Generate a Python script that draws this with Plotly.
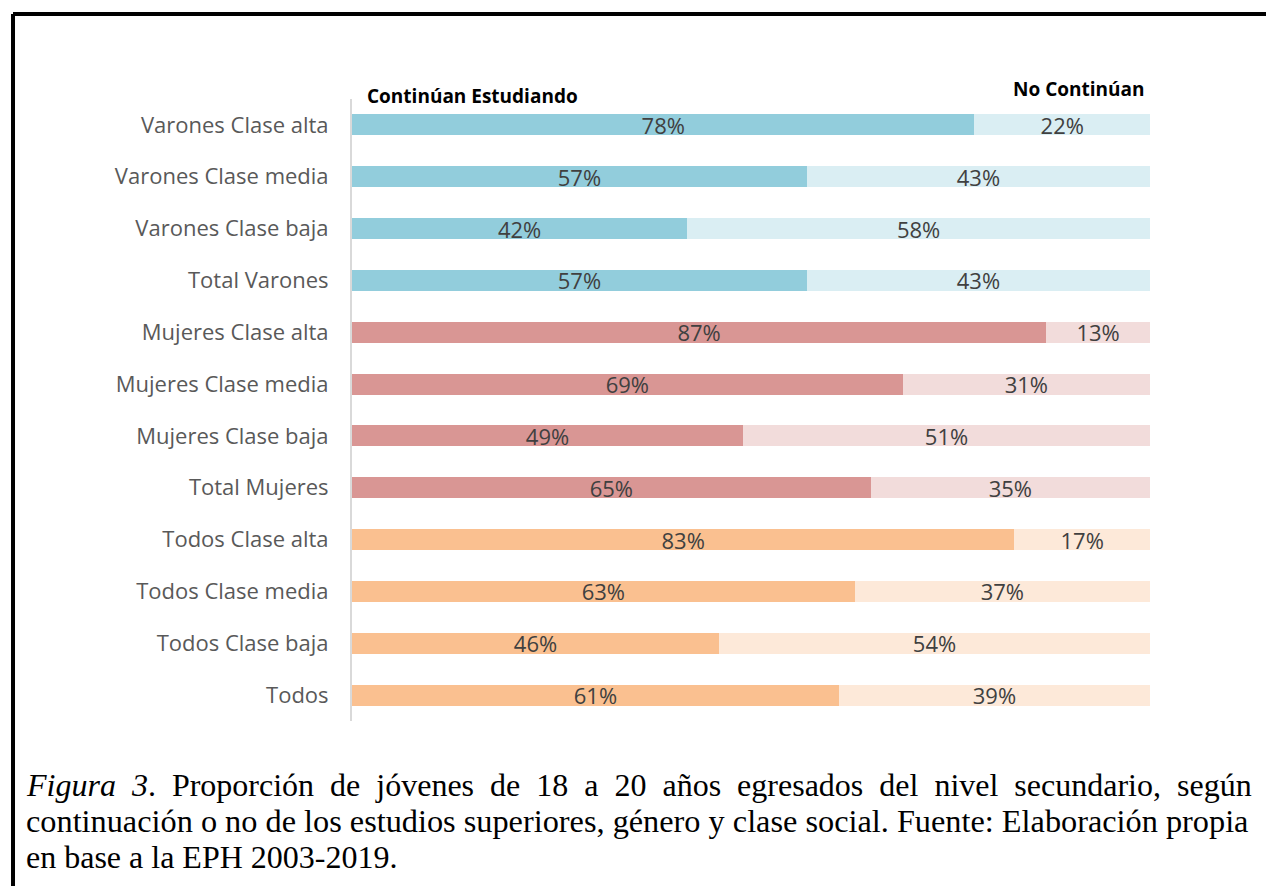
import plotly.graph_objects as go

# Datos (de arriba hacia abajo)
categorias = [
    "Varones Clase alta", "Varones Clase media", "Varones Clase baja", "Total Varones",
    "Mujeres Clase alta", "Mujeres Clase media", "Mujeres Clase baja", "Total Mujeres",
    "Todos Clase alta", "Todos Clase media", "Todos Clase baja", "Todos",
]
continuan = [78, 57, 42, 57, 87, 69, 49, 65, 83, 63, 46, 61]
no_continuan = [22, 43, 58, 43, 13, 31, 51, 35, 17, 37, 54, 39]

col_oscuro = ["#92CDDC"] * 4 + ["#D99694"] * 4 + ["#FAC090"] * 4
col_claro = ["#DAEEF3"] * 4 + ["#F2DCDB"] * 4 + ["#FDE9D9"] * 4

fig = go.Figure()
fig.add_trace(go.Bar(
    y=categorias, x=[v / 100 for v in continuan], orientation="h",
    marker=dict(color=col_oscuro, line=dict(width=0)),
    text=[f"{v}%" for v in continuan], textposition="inside", insidetextanchor="middle",
    constraintext="none", textfont=dict(family="Open Sans", size=22, color="#404040"),
    name="Continúan Estudiando", hoverinfo="skip",
))
fig.add_trace(go.Bar(
    y=categorias, x=[v / 100 for v in no_continuan], orientation="h",
    marker=dict(color=col_claro, line=dict(width=0)),
    text=[f"{v}%" for v in no_continuan], textposition="inside", insidetextanchor="middle",
    constraintext="none", textfont=dict(family="Open Sans", size=22, color="#404040"),
    name="No Continúan", hoverinfo="skip",
))

# la página tiene 8 px de margen, por eso la figura es 8 px más chica
fig.update_layout(
    barmode="stack", bargap=0.595, showlegend=False,
    width=1266, height=878,
    margin=dict(l=344, r=124, t=91, b=165),
    plot_bgcolor="white", paper_bgcolor="white",
    xaxis=dict(range=[0, 1], visible=False, fixedrange=True),
    yaxis=dict(autorange="reversed", showline=True, linecolor="#D9D9D9", linewidth=2,
               showgrid=False, ticks="", ticklabelstandoff=17,
               tickfont=dict(family="Open Sans", size=22, color="#595959")),
)

# Encabezados
fig.add_annotation(x=0.0163, y=1.0048, xref="paper", yref="paper", xanchor="left", yanchor="middle",
                   text="<b>Continúan Estudiando</b>", showarrow=False,
                   font=dict(family="Open Sans", size=19, color="black"))
fig.add_annotation(x=0.9962, y=1.0161, xref="paper", yref="paper", xanchor="right", yanchor="middle",
                   text="<b>No Continúan</b>", showarrow=False,
                   font=dict(family="Open Sans", size=19, color="black"))

# Borde superior e izquierdo
fig.add_shape(type="line", xref="paper", yref="paper", x0=-0.4248, x1=1.2, y0=1.1367, y1=1.1367,
              line=dict(color="black", width=4))
fig.add_shape(type="line", xref="paper", yref="paper", x0=-0.4248, x1=-0.4248, y0=1.1367, y1=-0.4,
              line=dict(color="black", width=4))

# Pie de figura (primera línea justificada con espacios dobles)
nb = " \u00a0"
linea1 = "<i>Figura" + nb + "3</i>." + nb + nb.join(
    "Proporción de jóvenes de 18 a 20 años egresados del nivel secundario, según".split(" "))
lineas = [
    linea1,
    "continuación o no de los estudios superiores, género y clase social. Fuente: Elaboración propia",
    "en base a la EPH 2003-2019.",
]
tamanos = [32, 32.3, 32]
for i, t in enumerate(lineas):
    fig.add_annotation(x=-0.411, y=-0.1029 - i * 0.0579, xref="paper", yref="paper",
                       xanchor="left", yanchor="middle", text=t, showarrow=False,
                       font=dict(family="Liberation Serif", size=tamanos[i], color="black"))

fig.write_html("out.html")
